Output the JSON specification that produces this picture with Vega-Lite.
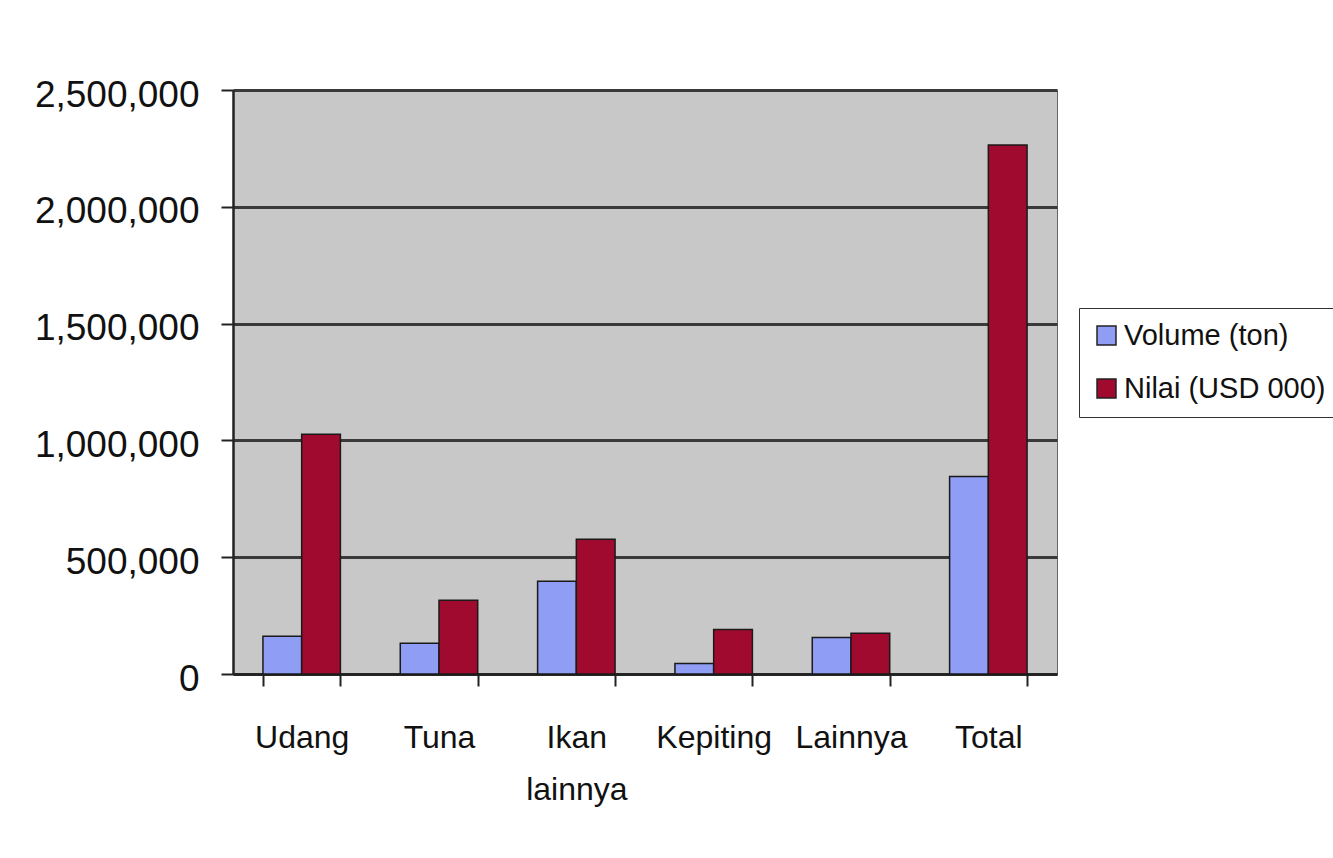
{
  "$schema": "https://vega.github.io/schema/vega-lite/v6.json",
  "width": 824,
  "height": 584,
  "autosize": {"type": "none"},
  "padding": {"left": 233, "top": 90, "right": 276, "bottom": 184},
  "background": "white",
  "data": {
    "values": [
      {"kategori": "Udang", "seri": "Volume (ton)", "nilai": 162000},
      {"kategori": "Udang", "seri": "Nilai (USD 000)", "nilai": 1026000},
      {"kategori": "Tuna", "seri": "Volume (ton)", "nilai": 132000},
      {"kategori": "Tuna", "seri": "Nilai (USD 000)", "nilai": 316000},
      {"kategori": "Ikan lainnya", "seri": "Volume (ton)", "nilai": 397000},
      {"kategori": "Ikan lainnya", "seri": "Nilai (USD 000)", "nilai": 577000},
      {"kategori": "Kepiting", "seri": "Volume (ton)", "nilai": 45000},
      {"kategori": "Kepiting", "seri": "Nilai (USD 000)", "nilai": 190000},
      {"kategori": "Lainnya", "seri": "Volume (ton)", "nilai": 156000},
      {"kategori": "Lainnya", "seri": "Nilai (USD 000)", "nilai": 174000},
      {"kategori": "Total", "seri": "Volume (ton)", "nilai": 845000},
      {"kategori": "Total", "seri": "Nilai (USD 000)", "nilai": 2265000}
    ]
  },
  "mark": {"type": "bar", "stroke": "#1a1a1a", "strokeWidth": 1.5},
  "encoding": {
    "x": {
      "field": "kategori",
      "type": "nominal",
      "sort": ["Udang", "Tuna", "Ikan lainnya", "Kepiting", "Lainnya", "Total"],
      "scale": {"paddingInner": 0.436, "paddingOuter": 0.218},
      "axis": {
        "title": null,
        "labelAngle": 0,
        "labelFontSize": 32,
        "labelColor": "#111",
        "labelPadding": 36,
        "labelLineHeight": 52,
        "labelBaseline": "top",
        "labelExpr": "datum.label == 'Ikan lainnya' ? ['Ikan', 'lainnya'] : datum.label",
        "tickBand": "extent",
        "tickSize": 12,
        "tickWidth": 2,
        "tickColor": "#222",
        "domainColor": "#222",
        "domainWidth": 2.5,
        "grid": false
      }
    },
    "xOffset": {
      "field": "seri",
      "type": "nominal",
      "sort": ["Volume (ton)", "Nilai (USD 000)"]
    },
    "y": {
      "field": "nilai",
      "type": "quantitative",
      "scale": {"domain": [0, 2500000], "nice": false},
      "axis": {
        "title": null,
        "values": [0, 500000, 1000000, 1500000, 2000000, 2500000],
        "format": ",.0f",
        "labelFontSize": 37,
        "labelColor": "#111",
        "labelPadding": 22,
        "labelOffset": 5,
        "tickSize": 12,
        "tickWidth": 2,
        "tickColor": "#222",
        "domainColor": "#222",
        "domainWidth": 2.5,
        "grid": true,
        "gridColor": "#3a3a3a",
        "gridWidth": 3
      }
    },
    "color": {
      "field": "seri",
      "type": "nominal",
      "scale": {
        "domain": ["Volume (ton)", "Nilai (USD 000)"],
        "range": ["#8f9df5", "#a00a2e"]
      },
      "legend": {
        "title": null,
        "orient": "none",
        "legendX": 846,
        "legendY": 218,
        "direction": "vertical",
        "fillColor": "white",
        "strokeColor": "#333",
        "padding": 13,
        "labelFontSize": 29,
        "labelColor": "#111",
        "labelOffset": 3,
        "labelLimit": 400,
        "rowPadding": 23,
        "symbolType": "square",
        "symbolSize": 360,
        "symbolStrokeColor": "#222",
        "symbolStrokeWidth": 1.5,
        "symbolOpacity": 1
      }
    }
  },
  "config": {
    "font": "Liberation Sans",
    "view": {"fill": "#c8c8c8", "stroke": "#666", "strokeWidth": 1}
  }
}
